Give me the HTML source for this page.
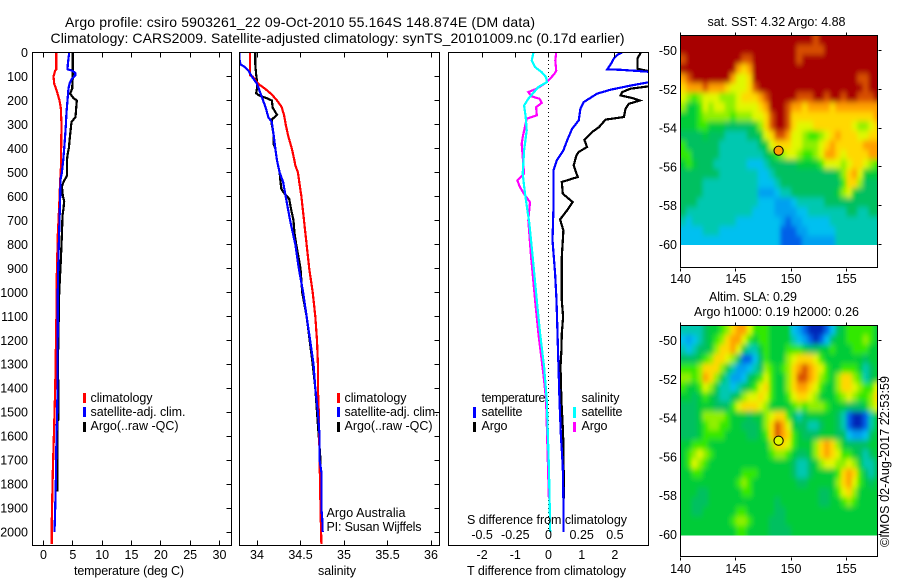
<!DOCTYPE html>
<html lang="en">
<head>
<meta charset="utf-8">
<title>Argo profile csiro 5903261_22</title>
<style>
html,body{margin:0;padding:0;background:#fff;width:900px;height:580px;overflow:hidden}
svg{display:block}
text{font-family:"Liberation Sans",sans-serif;font-size:12.5px;fill:#000}
.t{font-size:14px}
.box{fill:none;stroke:#000;stroke-width:1;shape-rendering:crispEdges}
.prof{fill:none;stroke-width:2.2;stroke-linejoin:miter;shape-rendering:crispEdges}
.tick{stroke:#000;stroke-width:1;shape-rendering:crispEdges}
.leg{shape-rendering:crispEdges}
</style>
</head>
<body>
<svg id="figure" xmlns="http://www.w3.org/2000/svg" width="900" height="580" viewBox="0 0 900 580">
<defs>
<clipPath id="clip-temp"><rect x="32.5" y="52.5" width="199" height="493"/></clipPath>
<clipPath id="clip-sal"><rect x="239.5" y="52.5" width="200" height="493"/></clipPath>
<clipPath id="clip-diff"><rect x="448.5" y="52.5" width="200" height="493"/></clipPath>
<clipPath id="clip-sst"><rect x="680.5" y="35.5" width="197" height="209.5"/></clipPath>
<clipPath id="clip-sla"><rect x="680.5" y="325.5" width="197" height="210"/></clipPath>
<filter id="soft" filterUnits="userSpaceOnUse" x="650" y="0" width="250" height="580"><feGaussianBlur stdDeviation="2 3"/></filter>
</defs>

<g id="sst-cells" clip-path="url(#clip-sst)"><g id="sst-inner" filter="url(#soft)"></g></g>
<g id="sla-cells" clip-path="url(#clip-sla)"><g id="sla-inner" filter="url(#soft)"></g></g>
<g id="temp-lines" clip-path="url(#clip-temp)"></g>
<g id="sal-lines" clip-path="url(#clip-sal)"></g>
<line x1="548.5" y1="52" x2="548.5" y2="532" stroke="#000" stroke-width="1" stroke-dasharray="1 3"/>
<g id="diff-lines" clip-path="url(#clip-diff)"></g>
<g id="ticks"></g>
<g id="labels"></g>
<g id="markers"></g>

<rect class="box" x="32.5" y="52.5" width="199" height="493"/>
<rect class="box" x="239.5" y="52.5" width="200" height="493"/>
<rect class="box" x="448.5" y="52.5" width="200" height="493"/>
<rect class="box" x="680.5" y="35.5" width="197" height="232"/>
<rect class="box" x="680.5" y="325.5" width="197" height="231"/>

<text class="t" x="65" y="27" textLength="470" lengthAdjust="spacing">Argo profile: csiro 5903261_22 09-Oct-2010 55.164S 148.874E (DM data)</text>
<text class="t" x="50.5" y="43" textLength="574" lengthAdjust="spacing">Climatology: CARS2009. Satellite-adjusted climatology: synTS_20101009.nc (0.17d earlier)</text>

<text x="74" y="575" textLength="110" lengthAdjust="spacing">temperature (deg C)</text>
<text x="318" y="575" textLength="38" lengthAdjust="spacing">salinity</text>
<text x="467" y="575" textLength="159" lengthAdjust="spacing">T difference from climatology</text>
<text x="467" y="524" textLength="160" lengthAdjust="spacing">S difference from climatology</text>

<g>
<rect class="leg" x="83" y="393" width="3" height="10" fill="#ff0000"/>
<text x="90.5" y="402" textLength="62" lengthAdjust="spacing">climatology</text>
<rect class="leg" x="83" y="407" width="3" height="10" fill="#0000ff"/>
<text x="90.5" y="416" textLength="95" lengthAdjust="spacing">satellite-adj. clim.</text>
<rect class="leg" x="83" y="422" width="3" height="10" fill="#000"/>
<text x="90.5" y="430" textLength="88" lengthAdjust="spacing">Argo(..raw -QC)</text>
</g>
<g>
<rect class="leg" x="337" y="393" width="3" height="10" fill="#ff0000"/>
<text x="344.5" y="402" textLength="62" lengthAdjust="spacing">climatology</text>
<rect class="leg" x="337" y="407" width="3" height="10" fill="#0000ff"/>
<text x="344.5" y="416" textLength="94" lengthAdjust="spacing">satellite-adj. clim.</text>
<rect class="leg" x="337" y="422" width="3" height="10" fill="#000"/>
<text x="344.5" y="430" textLength="88" lengthAdjust="spacing">Argo(..raw -QC)</text>
</g>
<text x="326.5" y="517" textLength="79" lengthAdjust="spacing">Argo Australia</text>
<text x="326.5" y="531" textLength="95" lengthAdjust="spacing">PI: Susan Wijffels</text>

<g>
<text x="481.5" y="402" textLength="64" lengthAdjust="spacing">temperature</text>
<rect class="leg" x="473" y="407" width="3" height="11" fill="#0000ff"/>
<text x="481.5" y="416" textLength="41" lengthAdjust="spacing">satellite</text>
<rect class="leg" x="473" y="422" width="3" height="10" fill="#000"/>
<text x="481.5" y="430" textLength="26" lengthAdjust="spacing">Argo</text>
<text x="581.5" y="402" textLength="38" lengthAdjust="spacing">salinity</text>
<rect class="leg" x="573" y="407" width="3" height="11" fill="#00ffff"/>
<text x="581.5" y="416" textLength="41" lengthAdjust="spacing">satellite</text>
<rect class="leg" x="573" y="422" width="3" height="10" fill="#ff00ff"/>
<text x="581.5" y="430" textLength="26" lengthAdjust="spacing">Argo</text>
</g>

<text x="707.5" y="26" textLength="138" lengthAdjust="spacing">sat. SST: 4.32 Argo: 4.88</text>
<text x="709" y="301" textLength="88" lengthAdjust="spacing">Altim. SLA: 0.29</text>
<text x="694" y="316" textLength="165" lengthAdjust="spacing">Argo h1000: 0.19 h2000: 0.26</text>
<text transform="translate(889 547) rotate(-90)" textLength="171" lengthAdjust="spacing">©IMOS 02-Aug-2017 22:53:59</text>
</svg>

<script>
/* ---------- profile data (depth in metres, values in physical units) ---------- */
const depthTicks = [0,100,200,300,400,500,600,700,800,900,1000,1100,1200,1300,1400,1500,1600,1700,1800,1900,2000];
const tempTicks = [0,5,10,15,20,25,30];
const salTicks = [34,34.5,35,35.5,36];
const salTickLabels = ["34","34.5","35","35.5","36"];
const tDiffTicks = [-2,-1,0,1,2];
const tDiffTickLabels = ["-2","-1","0","1","2"];
const sDiffTicks = [-0.5,-0.25,0,0.25,0.5];
const sDiffTickLabels = ["-0.5","-0.25","0","0.25","0.5"];
const mapLonTicks = [140,145,150,155];
const mapLatTicks = [-50,-52,-54,-56,-58,-60];

const tempClimDepth = [0,70,75,100,130,160,200,230,300,500,530,640,760,930,1000,1400,1550,1750,1950,2050];
const tempClim = [2.16,2.16,1.99,1.70,1.82,2.27,2.73,2.95,3.07,2.95,2.84,2.67,2.44,2.27,2.27,1.99,1.82,1.59,1.42,1.42];
const tempSatDepth = [0,50,70,75,85,95,110,130,150,200,250,300,350,400,450,500,530,600,700,800,900,1000,1400,1500,1600,1800,1900,2000];
const tempSat = [4.38,4.15,4.09,4.83,5.40,5.40,4.83,4.43,4.26,4.09,3.92,3.81,3.69,3.52,3.35,3.13,2.90,2.84,2.73,2.61,2.50,2.44,2.39,2.33,2.22,2.10,1.99,1.88];
const tempArgoDepth = [0,100,150,172,190,200,269,290,340,400,420,450,512,540,560,600,620,650,680,760,870,1000,1300,1450,1530,1540,1740,1750,1830];
const tempArgo = [5.00,5.00,4.89,4.55,5.11,5.68,5.45,4.77,4.55,4.32,4.15,3.98,4.03,3.41,3.13,3.30,3.52,3.41,3.24,3.13,2.95,2.67,2.45,2.56,2.56,2.33,2.33,2.39,2.39];

const salClimDepth = [0,95,100,125,135,150,175,200,225,260,300,350,400,450,470,500,550,600,700,800,900,1000,1100,1200,1300,1400,1500,1700,1900,2050];
const salClim = [33.92,33.92,33.95,34.00,34.03,34.09,34.17,34.23,34.28,34.31,34.33,34.36,34.40,34.43,34.44,34.47,34.49,34.51,34.54,34.57,34.60,34.64,34.67,34.69,34.70,34.70,34.71,34.72,34.73,34.74];
const salSatDepth = [0,30,50,60,75,100,130,160,180,200,230,270,290,340,400,450,500,540,600,700,800,900,1000,1100,1200,1300,1400,1500,1600,1700,1750,1900,1950,2000];
const salSat = [33.80,33.80,33.81,33.86,33.90,33.94,34.00,34.03,34.05,34.07,34.10,34.13,34.17,34.19,34.21,34.23,34.26,34.30,34.33,34.38,34.44,34.48,34.53,34.57,34.61,34.65,34.67,34.70,34.72,34.72,34.74,34.74,34.75,34.755];
const salArgoDepth = [0,50,90,120,150,170,180,190,200,230,260,280,300,340,380,400,450,500,540,570,590,610,650,700,750,800,900,1000,1100,1300,1400,1500,1700,1860];
const salArgo = [33.98,33.98,33.99,34.00,34.00,33.99,34.03,34.11,34.17,34.18,34.23,34.17,34.17,34.19,34.19,34.21,34.23,34.26,34.27,34.28,34.32,34.37,34.39,34.42,34.43,34.45,34.50,34.52,34.57,34.64,34.67,34.69,34.73,34.73];

const dTempSatDepth = [0,10,25,50,70,72,78,85,120,124,138,155,172,207,235,283,318,367,408,450,492,644,783,922,1033,1172,1311,1450,1589,1728,1867,2000];
const dTempSat = [2.22,2.07,1.97,1.87,1.77,2.17,2.78,3.50,3.50,3.03,2.47,1.87,1.46,1.06,0.96,0.91,0.71,0.56,0.45,0.25,0.15,0.15,0.12,0.20,0.24,0.27,0.30,0.33,0.37,0.43,0.45,0.45];
const dTempArgoDepth = [0,25,68,78,85,125,141,151,165,179,190,200,214,235,269,280,311,332,364,394,415,429,471,519,540,589,624,658,696,742,853,1033,1103,1172,1242,1311,1450,1589,1860];
const dTempArgo = [2.78,2.68,2.68,3.03,3.50,3.50,3.03,2.47,2.22,2.17,2.53,2.75,2.42,2.32,2.27,1.72,1.52,1.31,1.08,1.16,0.91,0.84,0.76,0.88,0.40,0.43,0.73,0.56,0.35,0.45,0.40,0.40,0.44,0.40,0.39,0.36,0.39,0.44,0.47];
const dSalSatDepth = [0,33,61,82,103,124,144,193,221,269,325,408,506,589,714,853,1033,1172,1311,1450,1589,1728,1867,2000];
const dSalSat = [-0.114,-0.126,-0.101,-0.051,-0.018,-0.013,-0.076,-0.152,-0.184,-0.172,-0.164,-0.184,-0.194,-0.177,-0.144,-0.119,-0.088,-0.063,-0.033,-0.013,-0.005,0.003,0.008,0.013];
const dSalArgoDepth = [0,33,75,89,124,151,165,183,193,210,228,262,276,353,381,506,533,561,596,624,700,853,1033,1172,1311,1367,1450,1860];
const dSalArgo = [0.058,0.051,0.058,0.045,-0.013,-0.088,-0.152,-0.126,-0.068,-0.051,-0.093,-0.088,-0.164,-0.194,-0.202,-0.184,-0.235,-0.215,-0.177,-0.139,-0.152,-0.131,-0.101,-0.076,-0.045,-0.033,-0.018,0.003];

const floatLon = 148.874;
const floatLat = -55.164;
const sstAtFloat = 10;
const slaAtFloat = 8;

/* colour levels: index = level + 1 */
const levelColours = ["#0028b8","#0060e8","#00a0f0","#00c0f0","#00c8b0","#00c060","#00cc38","#30e800","#90f000","#e0f800","#ffd800","#ffa000","#d85000","#a80000"];

/* map grids: colour level per half-degree cell, north to south, 140E eastward */
const sstGrid = [
[12,12,12,12,12,12, 12,12,12,12,12,12, 12,12,12,12,12,12, 12,12,12,12,12,12, 11,12,12,12,12,12, 12,12,12,12,12,12],
[12,12,12,12,12,12, 12,12,12,12,12,12, 12,12,12,12,12,12, 12,12,12,11,11,11, 11,11,12,12,12,12, 12,12,12,12,12,12],
[11,12,12,12,12,12, 12,12,12,12,12,11, 11,12,12,12,12,12, 12,12,12,11,12,12, 12,12,12,12,12,12, 12,12,12,12,12,12],
[12,12,12,12,12,12, 12,12,12,12,10,9, 10,12,12,12,12,12, 12,12,12,12,12,12, 12,12,12,12,12,12, 12,12,12,12,12,12],
[10,11,12,12,12,12, 12,12,12,10,8,8, 9,12,12,12,12,12, 12,12,12,12,12,12, 12,12,12,12,12,12, 12,12,11,11,12,12],
[9,10,10,10,11,10, 10,10,9,8,8,8, 9,11,12,12,12,12, 12,12,12,12,12,12, 12,12,12,12,12,12, 12,12,12,11,12,12],
[8,7,6,7,8,8, 8,7,7,7,8,9, 9,9,10,11,12,12, 12,12,12,11,11,11, 12,12,11,12,12,11, 12,12,11,11,11,12],
[7,5,5,6,8,7, 8,8,7,7,8,8, 8,8,9,10,12,12, 12,11,10,10,9,10, 10,10,10,9,10,10, 10,10,10,10,10,10],
[5,5,5,6,7,7, 7,7,7,6,7,7, 7,8,8,9,11,12, 12,11,9,9,9,9, 9,9,9,9,9,9, 9,9,9,9,9,10],
[5,5,5,6,6,5, 5,5,4,4,4,4, 4,5,7,9,11,12, 12,11,9,8,8,8, 9,9,9,9,9,9, 9,8,7,7,8,9],
[4,4,4,4,5,4, 4,4,3,3,3,3, 4,4,5,8,9,11, 11,10,8,8,7,6, 6,7,8,9,10,9, 9,9,8,8,9,9],
[6,4,4,4,4,4, 4,3,3,3,3,3, 3,3,4,5,8,9, 9,9,8,8,7,7, 7,8,9,10,9,9, 9,9,9,10,10,10],
[6,6,4,4,4,4, 4,3,3,3,3,3, 3,3,3,4,5,6, 7,8,8,7,6,6, 7,8,10,10,9,8, 9,9,9,9,10,10],
[5,6,5,4,4,4, 3,3,3,3,3,3, 2,2,2,3,4,4, 4,4,4,5,5,5, 5,6,8,8,8,7, 8,9,9,8,7,6],
[4,4,4,4,4,4, 4,3,3,3,3,3, 3,3,2,2,3,4, 4,4,4,4,4,4, 4,4,4,4,5,7, 9,10,8,5,5,5],
[4,4,4,4,3,3, 3,3,3,3,3,3, 3,3,2,2,2,3, 4,4,4,4,4,4, 4,4,4,4,4,6, 9,9,7,4,4,4],
[4,4,4,4,3,3, 3,3,3,3,3,3, 3,3,1,1,1,2, 3,3,4,4,4,4, 4,4,4,4,5,7, 8,5,4,4,4,4],
[4,4,4,3,3,3, 3,3,3,3,3,3, 3,3,2,2,2,1, 1,1,2,3,3,3, 3,3,4,4,4,4, 4,4,4,4,4,4],
[4,3,3,3,3,3, 3,3,3,3,3,3, 3,2,2,2,2,1, 1,1,1,2,2,3, 3,3,3,3,3,3, 4,4,3,3,4,4],
[3,2,3,3,3,3, 3,3,3,3,2,2, 2,2,2,2,2,2, 1,0,1,1,2,2, 2,2,2,3,3,3, 3,3,3,3,3,3],
[2,2,2,2,3,3, 3,2,2,2,2,2, 2,2,2,2,2,2, 0,0,0,1,1,2, 2,2,2,2,3,3, 3,3,3,3,3,3],
[2,2,2,2,2,2, 2,2,2,2,2,2, 2,2,2,2,2,2, 0,0,0,0,1,1, 1,1,1,1,3,3, 3,3,3,3,3,3]
];
const slaGrid = [
[3,3,3,3,4,5, 5,6,7,9,10,10, 8,6,6,6,5,5, 5,5,2,1,0,-1, -1,-1,0,2,4,5, 6,6,6,6,6,5],
[2,1,2,3,4,5, 6,7,9,10,10,8, 6,5,6,6,5,5, 5,5,3,2,1,0, -1,0,2,4,5,5, 6,6,6,7,6,5],
[3,2,3,4,4,5, 7,9,9,10,8,5, 3,3,5,6,5,5, 5,6,6,6,5,4, 4,5,5,6,5,5, 5,6,6,6,5,5],
[4,4,4,5,6,7, 9,9,8,7,4,0, 0,2,4,6,5,5, 5,7,8,9,9,9, 8,6,5,5,5,5, 5,5,5,4,5,5],
[6,6,6,7,9,9, 9,7,5,3,1,1, 2,3,4,7,6,5, 6,7,9,10,11,10, 9,8,6,5,5,6, 6,6,5,3,4,5],
[7,7,6,7,10,9, 7,5,3,1,1,2, 4,5,6,8,6,5, 5,7,9,11,11,10, 9,7,6,5,7,9, 9,7,6,3,4,5],
[6,5,5,6,8,7, 5,3,3,2,3,4, 5,6,8,9,6,5, 5,7,9,10,10,9, 8,6,5,5,7,9, 9,8,7,6,6,8],
[5,5,4,5,6,5, 4,3,3,4,5,7, 8,8,9,8,6,5, 5,6,8,9,9,8, 7,5,5,5,6,7, 8,7,6,6,7,9],
[4,4,4,5,5,5, 4,4,4,6,8,9, 9,9,8,7,5,5, 5,5,6,7,6,7, 7,7,6,5,5,5, 4,4,4,5,7,8],
[4,4,4,5,7,7, 7,7,6,5,5,5, 4,5,5,7,8,9, 9,6,4,3,4,5, 5,5,5,5,4,3, 0,-1,-1,0,3,5],
[4,4,4,5,6,7, 7,6,6,5,5,4, 4,4,5,7,9,11, 10,8,5,4,4,3, 3,4,5,5,4,3, 0,-1,-1,0,3,5],
[4,4,4,5,6,6, 6,6,5,5,5,5, 4,4,5,6,9,11, 10,9,6,5,4,4, 4,5,5,5,4,4, 2,1,1,2,4,5],
[5,5,6,6,6,5, 5,5,5,5,5,5, 5,5,5,5,7,9, 9,8,6,5,5,5, 7,9,10,9,7,5, 4,4,4,4,5,5],
[5,6,7,8,7,6, 5,5,5,5,5,5, 5,5,5,5,6,7, 7,6,5,4,4,5, 7,9,10,9,8,6, 6,5,4,3,4,5],
[5,6,8,7,6,5, 5,5,5,5,5,5, 5,5,5,5,5,5, 5,5,4,3,3,4, 5,7,8,8,7,7, 8,7,5,3,3,4],
[5,5,6,6,5,5, 5,5,5,5,5,6, 6,6,5,5,5,5, 5,5,4,3,3,4, 5,5,5,5,6,9, 10,9,6,4,3,4],
[5,5,5,5,5,5, 5,5,5,5,6,7, 6,5,5,5,5,5, 5,5,5,4,4,5, 5,5,5,5,7,9, 10,8,6,5,4,5],
[5,5,5,4,4,5, 5,5,5,5,5,6, 6,5,5,5,5,5, 5,5,5,5,5,5, 5,4,4,5,6,8, 9,7,5,5,5,5],
[5,5,4,4,4,5, 5,5,5,5,5,5, 5,5,5,5,5,4, 5,5,5,5,5,5, 5,4,4,5,5,6, 7,6,5,5,5,5],
[5,5,4,4,5,5, 5,5,5,5,6,6, 5,5,5,5,5,4, 4,5,5,5,5,5, 5,5,5,5,5,5, 5,5,5,5,5,5],
[5,5,5,5,5,5, 5,5,5,6,7,7, 6,5,5,5,4,4, 4,5,5,5,5,5, 5,5,5,5,5,5, 5,5,5,5,5,5],
[5,5,5,5,5,5, 5,5,5,5,6,6, 5,5,5,5,4,4, 4,4,5,5,5,5, 5,5,5,5,5,5, 5,5,5,5,5,5]
];

/* ---------- axis functions ---------- */
const SVGNS = "http://www.w3.org/2000/svg";
const depthY = d => 52.5 + d * 0.2398;
const tempX = t => 43.5 + t * 5.867;
const salX = s => 257 + (s - 34) * 87;
const tDiffX = t => 548.5 + t * 33.2;
const sDiffX = s => 548.5 + s * 132.8;
const lonX = lon => 680.5 + (lon - 140) * 11.05;
const sstLatY = lat => 50.7 + (-50 - lat) * 19.36;
const slaLatY = lat => 340.7 + (-50 - lat) * 19.36;
const CELL_DEG = 0.5;
const NORTH_EDGE = -49.21;
const ROW_DEG = 0.4927;

function svgEl(tag, parentId) {
  const el = document.createElementNS(SVGNS, tag);
  document.getElementById(parentId).appendChild(el);
  return el;
}

function drawProfile(parentId, depths, values, xFn, colour, name) {
  const el = svgEl("polyline", parentId);
  el.setAttribute("class", "prof");
  el.setAttribute("stroke", colour);
  el.setAttribute("points", depths.map((d, i) => xFn(values[i]).toFixed(1) + "," + depthY(d).toFixed(1)).join(" "));
  
  
}

function drawTick(x1, y1, x2, y2, name) {
  const el = svgEl("line", "ticks");
  el.setAttribute("class", "tick");
  el.setAttribute("x1", Math.round(x1 - 0.5) + 0.5);
  el.setAttribute("y1", Math.round(y1 - 0.5) + 0.5);
  el.setAttribute("x2", Math.round(x2 - 0.5) + 0.5);
  el.setAttribute("y2", Math.round(y2 - 0.5) + 0.5);
  
  
}

function drawLabel(x, y, str, anchor, name) {
  const el = svgEl("text", "labels");
  el.setAttribute("x", x);
  el.setAttribute("y", y);
  el.setAttribute("text-anchor", anchor);
  el.textContent = str;
  
  
}

function drawGrid(parentId, grid, latY, name) {
  grid.forEach((row, r) => {
    row.forEach((level, c) => {
      let x0 = lonX(140 + c * CELL_DEG);
      let x1 = lonX(140 + (c + 1) * CELL_DEG);
      let y0 = latY(NORTH_EDGE - r * ROW_DEG);
      let y1 = latY(NORTH_EDGE - (r + 1) * ROW_DEG);
      if (c === 0) x0 -= 14;
      if (c === row.length - 1) x1 += 14;
      if (r === 0) y0 -= 14;
      if (r === grid.length - 1) y1 += 14;
      const el = svgEl("rect", parentId);
      el.setAttribute("x", x0.toFixed(1));
      el.setAttribute("y", y0.toFixed(1));
      el.setAttribute("width", (x1 - x0 + 0.6).toFixed(1));
      el.setAttribute("height", (y1 - y0 + 0.6).toFixed(1));
      el.setAttribute("fill", levelColours[level + 1]);
      
      
    });
  });
}

/* ---------- heatmaps ---------- */
drawGrid("sst-inner", sstGrid, sstLatY, "sst-cell");
drawGrid("sla-inner", slaGrid, slaLatY, "sla-cell");

/* ---------- profiles ---------- */
drawProfile("temp-lines", tempArgoDepth, tempArgo, tempX, "#000000", "temperature-argo-line");
drawProfile("temp-lines", tempClimDepth, tempClim, tempX, "#ff0000", "temperature-climatology-line");
drawProfile("temp-lines", tempSatDepth, tempSat, tempX, "#0000ff", "temperature-satellite-line");
drawProfile("sal-lines", salArgoDepth, salArgo, salX, "#000000", "salinity-argo-line");
drawProfile("sal-lines", salClimDepth, salClim, salX, "#ff0000", "salinity-climatology-line");
drawProfile("sal-lines", salSatDepth, salSat, salX, "#0000ff", "salinity-satellite-line");
drawProfile("diff-lines", dTempArgoDepth, dTempArgo, tDiffX, "#000000", "t-difference-argo-line");
drawProfile("diff-lines", dTempSatDepth, dTempSat, tDiffX, "#0000ff", "t-difference-satellite-line");
drawProfile("diff-lines", dSalArgoDepth, dSalArgo, sDiffX, "#ff00ff", "s-difference-argo-line");
drawProfile("diff-lines", dSalSatDepth, dSalSat, sDiffX, "#00ffff", "s-difference-satellite-line");

/* ---------- ticks and tick labels ---------- */
depthTicks.forEach(d => {
  const y = depthY(d);
  drawLabel(28, y + 4.5, String(d), "end", "depth-tick-label");
  drawTick(226, y, 231, y, "temperature-depth-tick");
  drawTick(434, y, 439, y, "salinity-depth-tick");
});
tempTicks.forEach(t => {
  drawTick(tempX(t), 52, tempX(t), 57, "temperature-top-tick");
  drawTick(tempX(t), 540, tempX(t), 545, "temperature-bottom-tick");
  drawLabel(tempX(t), 559, String(t), "middle", "temperature-tick-label");
});
salTicks.forEach((s, i) => {
  drawTick(salX(s), 52, salX(s), 57, "salinity-top-tick");
  drawTick(salX(s), 540, salX(s), 545, "salinity-bottom-tick");
  drawLabel(salX(s), 559, salTickLabels[i], "middle", "salinity-tick-label");
});
tDiffTicks.forEach((t, i) => {
  drawTick(tDiffX(t), 52, tDiffX(t), 57, "t-difference-top-tick");
  drawLabel(tDiffX(t), 559, tDiffTickLabels[i], "middle", "t-difference-tick-label");
});
sDiffTicks.forEach((s, i) => {
  drawLabel(sDiffX(s), 539, sDiffTickLabels[i], "middle", "s-difference-tick-label");
});
mapLonTicks.forEach(lon => {
  drawTick(lonX(lon), 32, lonX(lon), 35, "sst-map-top-tick");
  drawTick(lonX(lon), 268, lonX(lon), 271, "sst-map-bottom-tick");
  drawTick(lonX(lon), 322, lonX(lon), 325, "sla-map-top-tick");
  drawTick(lonX(lon), 557, lonX(lon), 560, "sla-map-bottom-tick");
  drawLabel(lonX(lon), 283, String(lon), "middle", "sst-map-lon-label");
  drawLabel(lonX(lon), 573, String(lon), "middle", "sla-map-lon-label");
});
mapLatTicks.forEach(lat => {
  drawTick(878, sstLatY(lat), 881, sstLatY(lat), "sst-map-lat-tick");
  drawTick(878, slaLatY(lat), 881, slaLatY(lat), "sla-map-lat-tick");
  drawLabel(677, sstLatY(lat) + 4.5, String(lat), "end", "sst-map-lat-label");
  drawLabel(677, slaLatY(lat) + 4.5, String(lat), "end", "sla-map-lat-label");
});

/* ---------- float position markers ---------- */
const sstMark = svgEl("circle", "markers");
sstMark.setAttribute("cx", lonX(floatLon).toFixed(1));
sstMark.setAttribute("cy", sstLatY(floatLat).toFixed(1));
sstMark.setAttribute("r", "4.6");
sstMark.setAttribute("fill", levelColours[sstAtFloat + 1]);
sstMark.setAttribute("stroke", "#000");


const slaMark = svgEl("circle", "markers");
slaMark.setAttribute("cx", lonX(floatLon).toFixed(1));
slaMark.setAttribute("cy", slaLatY(floatLat).toFixed(1));
slaMark.setAttribute("r", "4.6");
slaMark.setAttribute("fill", levelColours[slaAtFloat + 1]);
slaMark.setAttribute("stroke", "#000");


</script>
</body>
</html>
